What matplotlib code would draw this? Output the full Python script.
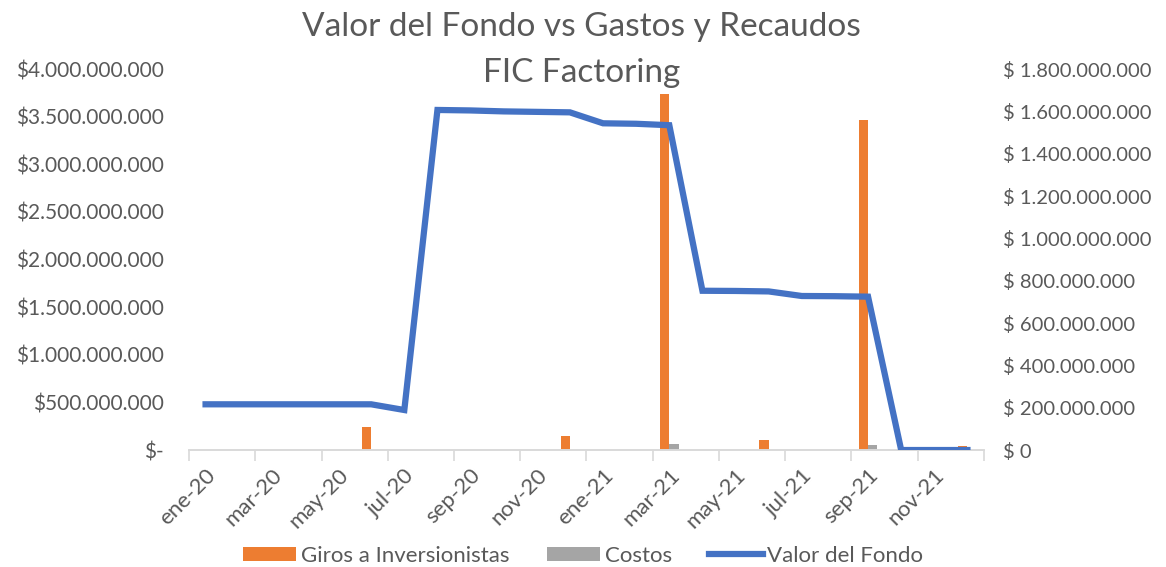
import numpy as np
import matplotlib.pyplot as plt
from matplotlib.ticker import FuncFormatter

plt.rcParams['font.family'] = ['Lato', 'DejaVu Sans']

# monthly data, ene-20 .. dic-21
meses = ['ene-20', 'feb-20', 'mar-20', 'abr-20', 'may-20', 'jun-20',
         'jul-20', 'ago-20', 'sep-20', 'oct-20', 'nov-20', 'dic-20',
         'ene-21', 'feb-21', 'mar-21', 'abr-21', 'may-21', 'jun-21',
         'jul-21', 'ago-21', 'sep-21', 'oct-21', 'nov-21', 'dic-21']

giros = [0, 0, 0, 0, 0, 110e6,
         0, 0, 0, 0, 0, 68e6,
         0, 0, 1680e6, 0, 0, 47e6,
         0, 0, 1560e6, 0, 0, 19e6]

costos = [0, 0, 0, 0, 0, 0,
          1e6, 2e6, 2e6, 2e6, 2e6, 2e6,
          2e6, 2e6, 28e6, 1e6, 1e6, 1e6,
          1e6, 1e6, 24e6, 0, 0, 0]

valor_fondo = [480e6, 480e6, 480e6, 480e6, 480e6, 480e6,
               420e6, 3570e6, 3565e6, 3555e6, 3550e6, 3545e6,
               3430e6, 3425e6, 3410e6, 1672e6, 1670e6, 1665e6,
               1617e6, 1615e6, 1610e6, 0, 0, 0]

naranja = '#ED7D31'
gris = '#A5A5A5'
azul = '#4472C4'
texto = '#595959'

fig = plt.figure(figsize=(11.66, 5.67), dpi=100)
ax = fig.add_axes([0.1621, 0.2063, 0.6818, 0.672])
ax2 = ax.twinx()

x = np.arange(len(meses))
w = 0.28
# bars on the secondary (right) axis, line on the primary (left) axis
ax2.bar(x - w / 2, giros, width=w, color=naranja, label='Giros a Inversionistas')
ax2.bar(x + w / 2, costos, width=w, color=gris, label='Costos')
ax.plot(x, valor_fondo, color=azul, lw=4.5, solid_joinstyle='miter',
        label='Valor del Fondo', zorder=5)
ax.set_zorder(ax2.get_zorder() + 1)
ax.patch.set_visible(False)

ax.set_xlim(-0.5, len(meses) - 0.5)
ax.set_ylim(0, 4e9)
ax2.set_ylim(0, 1.8e9)
ax.set_yticks(np.arange(0, 4.01e9, 0.5e9))
ax2.set_yticks(np.arange(0, 1.81e9, 0.2e9))


def fmt_izq(v, pos):
    if v == 0:
        return '$-'
    return '$' + f'{v:,.0f}'.replace(',', '.')


def fmt_der(v, pos):
    return '$ ' + f'{v:,.0f}'.replace(',', '.')


ax.yaxis.set_major_formatter(FuncFormatter(fmt_izq))
ax2.yaxis.set_major_formatter(FuncFormatter(fmt_der))

for a in (ax, ax2):
    for s in ('top', 'left', 'right'):
        a.spines[s].set_visible(False)
    a.spines['bottom'].set_color('#D9D9D9')
    a.spines['bottom'].set_linewidth(1.2)

ax.tick_params(axis='y', length=0, labelsize=15, labelcolor=texto, pad=18)
ax2.tick_params(axis='y', length=0, labelsize=14.5, labelcolor=texto, pad=14)

# ticks at category edges every 2 months, labels at category centers
ax.set_xticks(np.arange(-0.5, len(meses), 2))
ax.set_xticklabels([])
ax.tick_params(axis='x', which='major', length=8, width=1.2, color='#D9D9D9')
ax.set_xticks(x[::2], minor=True)
ax.set_xticklabels(meses[::2], minor=True, rotation=45, ha='right',
                   va='top', rotation_mode='anchor', fontsize=16, color=texto)
ax.tick_params(axis='x', which='minor', length=0, pad=11)
ax2.tick_params(axis='x', length=0)

fig.text(0.499, 0.952, 'Valor del Fondo vs Gastos y Recaudos', ha='center',
         va='center', fontsize=24, color=texto)
fig.text(0.499, 0.872, 'FIC Factoring', ha='center', va='center',
         fontsize=24, color=texto)

h1, l1 = ax2.get_legend_handles_labels()
h2, l2 = ax.get_legend_handles_labels()
fig.legend(h1 + h2, l1 + l2, loc='center', bbox_to_anchor=(0.5, 0.02),
           ncol=3, frameon=False, fontsize=16, labelcolor=texto,
           handlelength=2.4, handleheight=0.6, columnspacing=1.7,
           handletextpad=0.2)

fig.savefig('out.png', dpi=100)
